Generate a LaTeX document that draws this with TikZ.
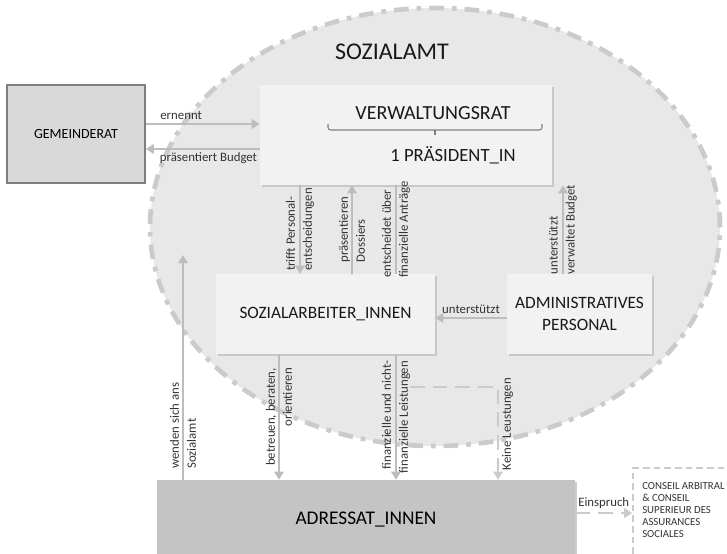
\documentclass[tikz,border=0pt]{standalone}
\usepackage{fontspec}
\setmainfont{Carlito}
\usetikzlibrary{arrows.meta,shadows,calc}

\definecolor{arrgray}{HTML}{BDBDBD}
\definecolor{amtfill}{HTML}{E8E8E8}
\definecolor{amtline}{HTML}{CBCBCB}
\definecolor{boxfill}{HTML}{F2F2F2}
\definecolor{gemfill}{HTML}{D9D9D9}
\definecolor{gemline}{HTML}{7F7F7F}
\definecolor{adrfill}{HTML}{C4C4C4}
\definecolor{labtext}{HTML}{333333}

\begin{document}
\begin{tikzpicture}[x=0.75pt, y=-0.75pt,
    box/.style={rectangle, fill=boxfill, inner sep=0pt, drop shadow={shadow xshift=1.5pt, shadow yshift=-1.5pt, opacity=0.3}},
    boxtext/.style={font=\fontsize{13}{16.5}\selectfont, text=black!90},
    arr/.style={draw=arrgray, line width=2pt, -{Triangle[length=6pt, width=7pt]}},
    plainln/.style={draw=arrgray, line width=2pt},
    darr/.style={draw=amtline, line width=2pt, dash pattern=on 11pt off 6pt, -{Triangle[length=6pt, width=7pt]}},
    lab/.style={font=\fontsize{9.6}{12.75}\selectfont, text=labtext, inner sep=2pt},
    vlab/.style={lab, rotate=90, align=left},
  ]
    \clip (0,0) rectangle (727,553);

    % Sozialamt
    \draw[amtline, fill=amtfill, line width=3.5pt, dash pattern=on 11pt off 6pt on 3.5pt off 6pt]
        (435,227) ellipse [x radius=213.75pt, y radius=164.25pt];
    \node[font=\fontsize{18}{20}\selectfont, text=black!90] (amt) at (392,52) {SOZIALAMT};

    % Boxes
    \node[draw=gemline, fill=gemfill, line width=1.2pt, minimum width=103.5pt, minimum height=73.5pt,
          font=\fontsize{10.5}{12}\selectfont] (gem) at (76,134) {GEMEINDERAT};

    \node[box, minimum width=219pt, minimum height=75pt] (vwr) at (406,135) {};
    \node[boxtext, font=\fontsize{15}{17}\selectfont] (vwrtitle) at (433,113) {VERWALTUNGSRAT};
    % brace
    \draw[gemline, line width=0.8pt, rounded corners=2pt] (328,124) -- (328,130) -- (542,130) -- (542,124);
    \draw[gemline, line width=0.8pt] (435,130) -- (435,135);
    \node[boxtext, font=\fontsize{14}{16}\selectfont] (praes) at (453,155) {1 PRÄSIDENT\_IN};

    \node[box, boxtext, minimum width=164.25pt, minimum height=60pt] (soz) at (325.5,314) {SOZIALARBEITER\_INNEN};
    \node[box, boxtext, align=center, minimum width=108.75pt, minimum height=60pt] (adm) at (579.5,314) {ADMINISTRATIVES\\PERSONAL};

    \node[fill=adrfill, minimum width=313.5pt, minimum height=60pt, font=\fontsize{14.5}{16}\selectfont,
          drop shadow={shadow xshift=1.5pt, shadow yshift=-1.5pt, opacity=0.4}] (adr) at (366,520) {ADRESSAT\_INNEN};

    \node[draw=amtline, line width=1.2pt, dash pattern=on 5pt off 3pt, minimum width=84pt, minimum height=76.5pt] (cons) at (689,519) {};
    \node[anchor=north west, align=left, inner sep=0pt, font=\fontsize{8.1}{9}\selectfont, text=labtext] (constext) at (642,482)
        {CONSEIL ARBITRAL\\\& CONSEIL\\SUPERIEUR DES\\ASSURANCES\\SOCIALES};

    % Connectors
    \draw[arr] (gem.east |- 0,124) -- node[lab, above, pos=0.31] {ernennt} (vwr.west |- 0,124);
    \draw[arr] (vwr.west |- 0,149) -- node[lab, below, pos=0.45] {präsentiert Budget} (gem.east |- 0,149);

    \draw[arr] (vwr.south -| 300,0) -- node[vlab] {trifft Personal-\\entscheidungen} (soz.north -| 300,0);
    \draw[arr] (soz.north -| 352,0) -- node[vlab] {präsentieren\\Dossiers} (vwr.south -| 352,0);
    \draw[plainln] (vwr.south -| 396,0) -- node[vlab] {entscheidet über\\finanzielle Anträge} (soz.north -| 396,0);
    \draw[arr] (adm.north -| 563,0) -- node[vlab] {unterstützt\\verwaltet Budget} (vwr.south -| 563,0);
    \draw[arr] (adm.west |- 0,318) -- node[lab, above] {unterstützt} (soz.east |- 0,318);

    \coordinate (wend) at (183,255);
    \draw[arr] (adr.north -| 183,0) -- node[vlab, pos=0.24] {wenden sich ans\\Sozialamt} (wend);
    \draw[arr] (soz.south -| 279,0) -- node[vlab, align=right] {betreuen, beraten,\\orientieren} (adr.north -| 279,0);
    \draw[arr] (soz.south -| 396,0) -- node[vlab, align=right] {finanzielle und nicht-\\finanzielle Leistungen} (adr.north -| 396,0);

    \coordinate (keine) at (410,387);
    \draw[darr] (keine) -| node[lab, rotate=90, anchor=north, pos=0.7] {Keine Leustungen} (adr.north -| 498,0);
    \draw[darr] (adr.east |- 0,513) -- node[lab, above] {Einspruch} (cons.west |- 0,513);
\end{tikzpicture}
\end{document}
